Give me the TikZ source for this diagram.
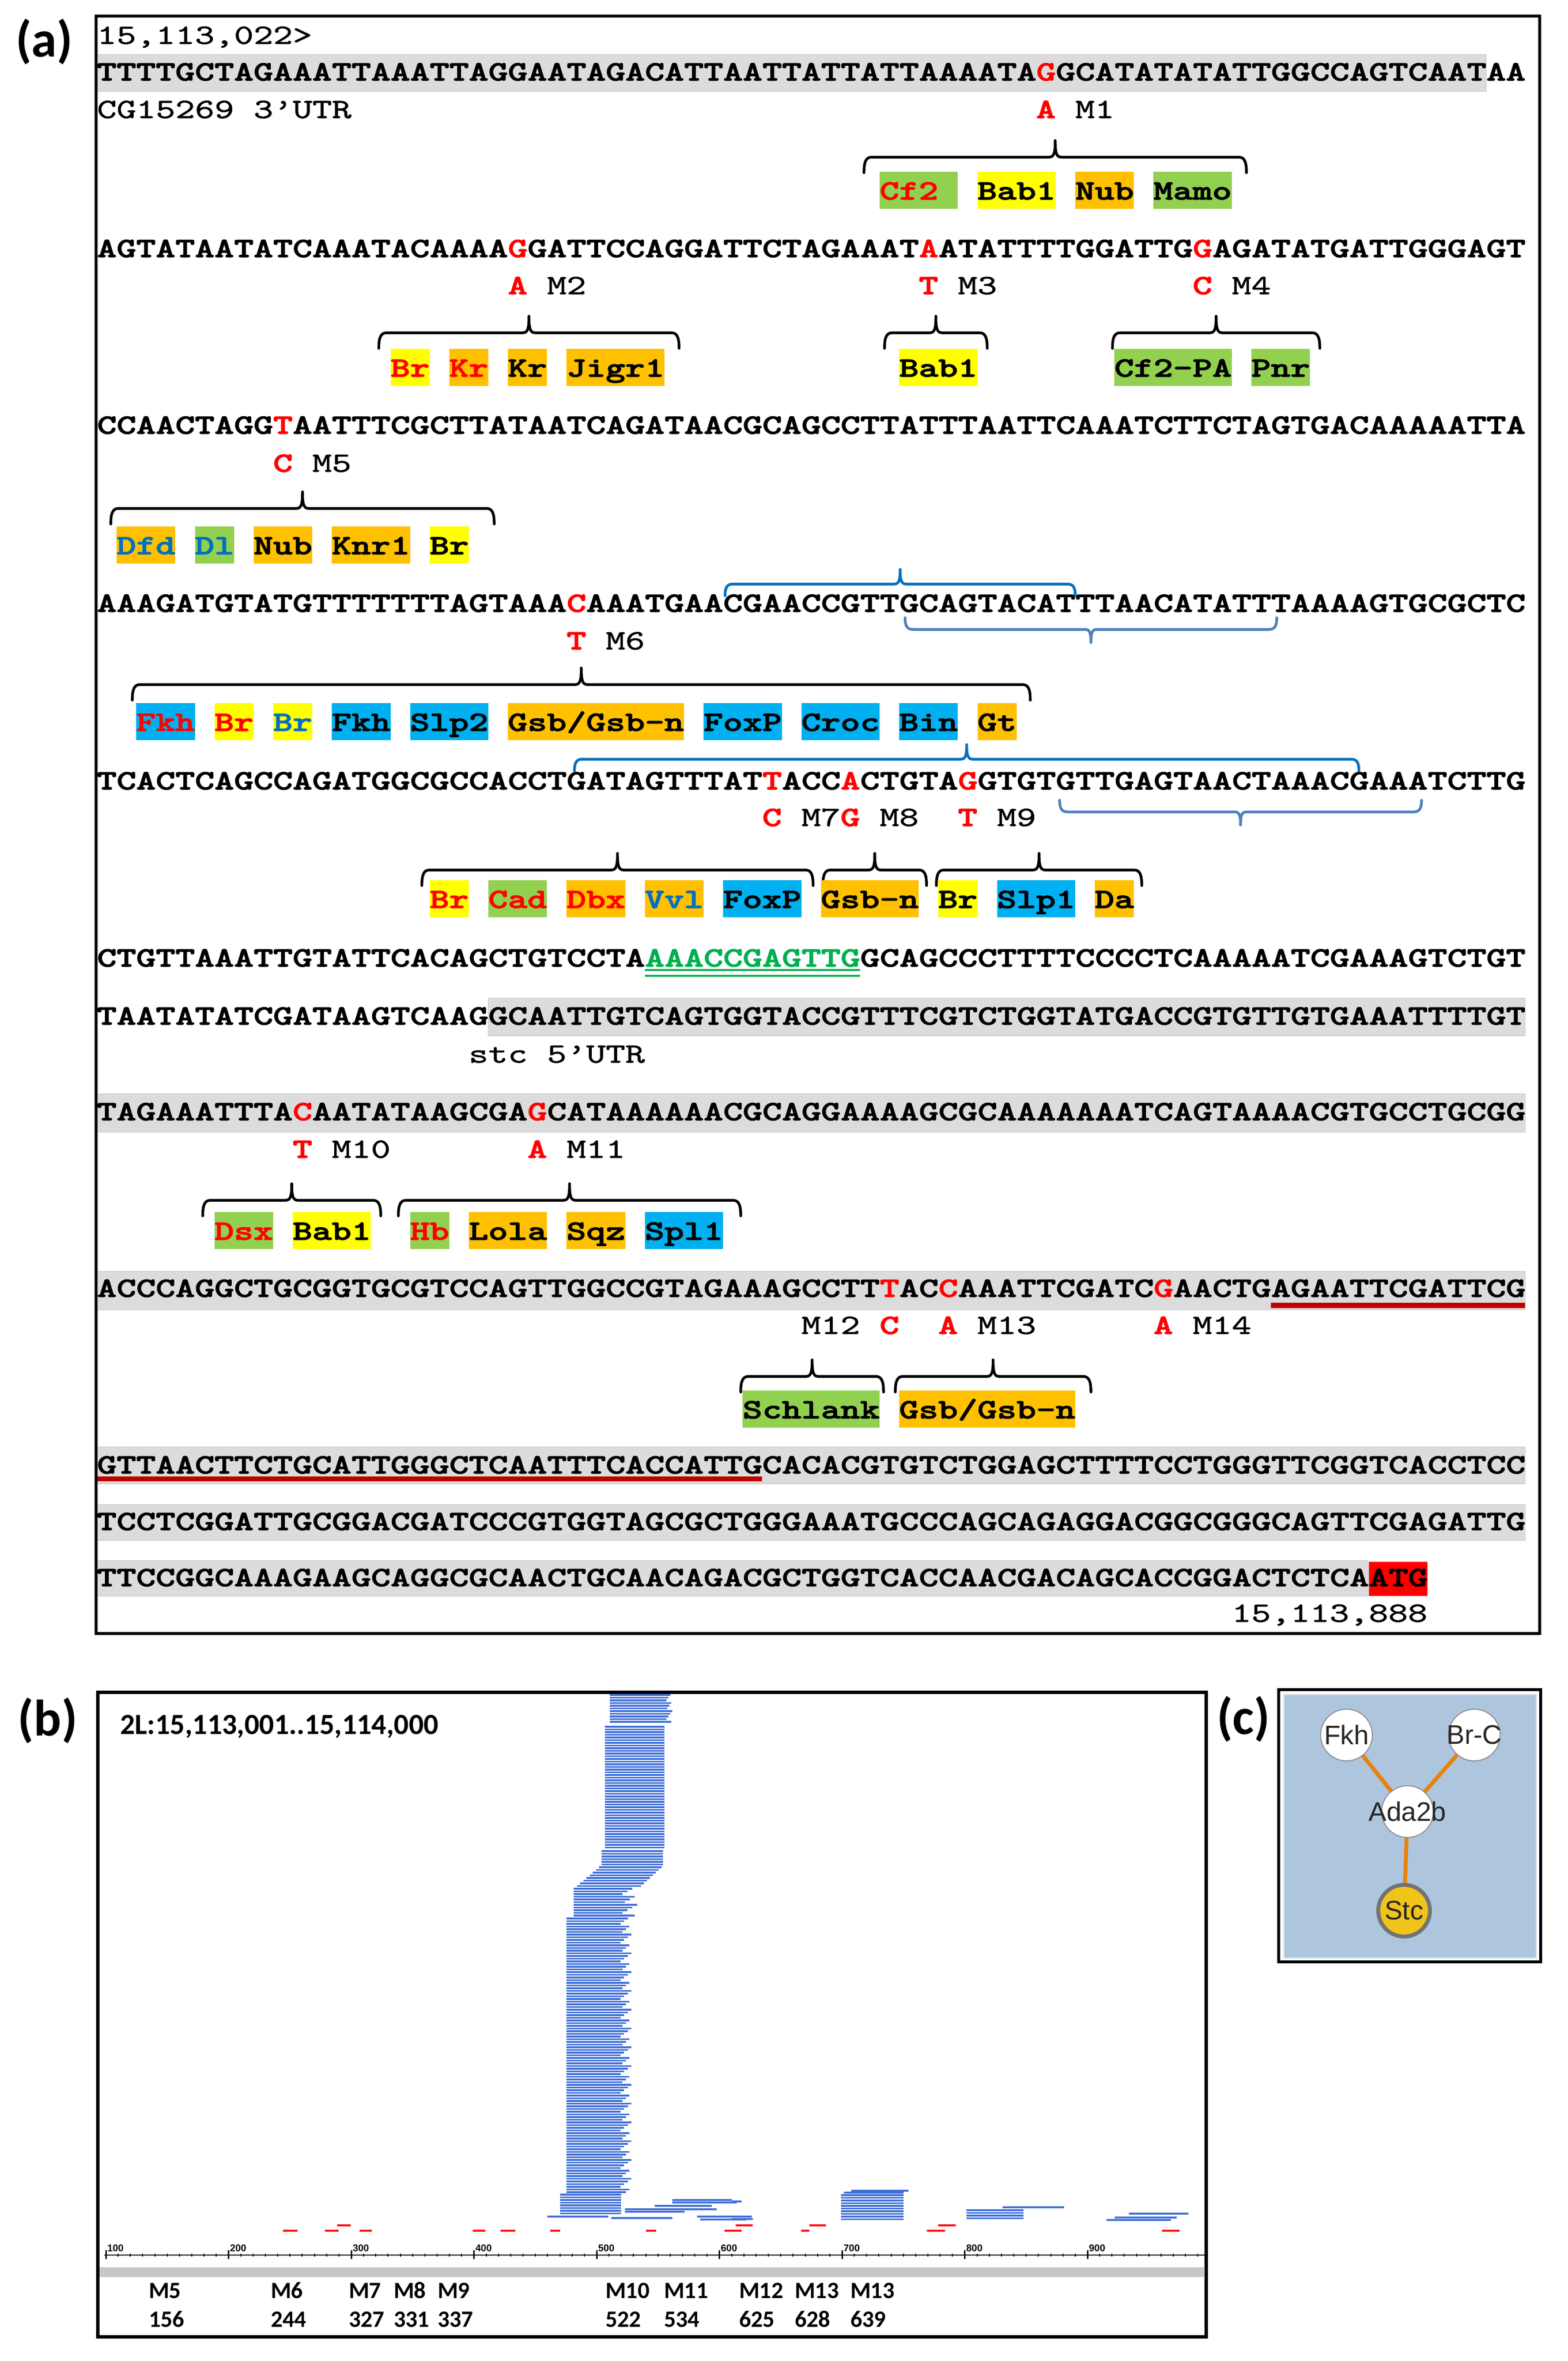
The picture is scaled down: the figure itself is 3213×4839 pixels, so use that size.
\documentclass[tikz,border=0pt]{standalone}
\usepackage{fontspec}
\newfontfamily\calfont{Carlito}
\newfontfamily\arfont{Liberation Sans}
\newfontfamily\seqbf{lmmonolt10-bold.otf}[FakeBold=2]
\newfontfamily\seqrg{lmmono10-regular.otf}[FakeBold=1]

\definecolor{hlyel}{HTML}{FFFF00}
\definecolor{hlorg}{HTML}{FFC000}
\definecolor{hlgrn}{HTML}{92D050}
\definecolor{hlcya}{HTML}{00B0F0}
\definecolor{txred}{HTML}{FF0000}
\definecolor{txblu}{HTML}{0070C0}
\definecolor{bandgr}{HTML}{DCDCDC}
\definecolor{seqgrn}{HTML}{00B050}
\definecolor{ulred}{HTML}{C00000}
\definecolor{brblu}{HTML}{0070C0}
\definecolor{brblt}{HTML}{4F81BD}
\definecolor{readdk}{HTML}{3F6FD8}
\definecolor{netbg}{HTML}{ADC6DE}
\definecolor{netedge}{HTML}{E8820C}
\definecolor{stcfill}{HTML}{F0C419}

\newlength\cw
\setlength\cw{8.022pt}
\newcommand\seqfont{\fontsize{15.28}{18}\selectfont\ttfamily}
\newcommand\seqtx[1]{\scalebox{1}[0.75]{#1}}
\newcommand\mutc[1]{\textcolor{txred}{\seqbf #1}}

\tikzstyle{seq} = [anchor=base west, inner sep=0pt, outer sep=0pt, font=\seqfont\seqbf]
\tikzstyle{note} = [anchor=base west, inner sep=0pt, outer sep=0pt, font=\seqfont\seqrg]
\tikzstyle{tf} = [anchor=base west, inner sep=0pt, outer sep=0pt, text height=11.4pt, text depth=3.8pt, font=\seqfont\seqbf]
\tikzstyle{brc} = [line width=1.1pt, line join=round, line cap=round]
\tikzstyle{band} = [fill=bandgr, draw=black!18, line width=0.3pt]
\tikzstyle{rdline} = [draw=readdk, line width=0.7pt]
\tikzstyle{rdred} = [draw=txred, line width=0.7pt]
\tikzstyle{plab} = [anchor=base west, inner sep=0pt, font={\calfont\bfseries\fontsize{21}{24}\selectfont}]
\tikzstyle{mlab} = [anchor=base west, inner sep=0pt, font={\calfont\bfseries\fontsize{9.6}{11}\selectfont}]
\tikzstyle{axlab} = [anchor=base west, inner sep=0pt, font={\arfont\bfseries\fontsize{4}{5}\selectfont}]
\tikzstyle{net} = [circle, draw=black!45, line width=0.4pt, fill=white, minimum size=21.2pt, inner sep=0pt, font={\arfont\fontsize{11}{13}\selectfont}, text=black!85]
\tikzstyle{netline} = [draw=netedge, line width=1.6pt]

% highlighted factor name: name, cell, cells, fill, text colour, baseline, label
\newcommand\tfbox[7]{\node[tf, fill=#4, text=#5] (#1) at (#2,#6) {\makebox[#3\cw][l]{\seqtx{#7}}};}
% brace: left, right, level, end offset, tip offset, style
\newcommand\tfbrace[6]{%
	\pgfmathsetmacro\bm{(#1+#2)/2}%
	\draw[brc,#6] (#1,{#3+(#4)}) .. controls (#1,{#3+0.3*(#4)}) and ({#1+0.1},#3) .. ({#1+0.4},#3)
		-- ({\bm-0.3},#3) .. controls ({\bm-0.05},#3) and (\bm,{#3+0.3*(#5)}) .. (\bm,{#3+(#5)})
		.. controls (\bm,{#3+0.3*(#5)}) and ({\bm+0.05},#3) .. ({\bm+0.3},#3)
		-- ({#2-0.4},#3) .. controls ({#2-0.1},#3) and (#2,{#3+0.3*(#4)}) .. (#2,{#3+(#4)});}
% stack of reads: left, right, top, count, jitter
\newcommand\readpile[5]{%
	\foreach \i in {1,...,#4}{%
		\pgfmathsetmacro\rx{#2-#5*mod(\i*37,7)/6}%
		\draw[rdline] (#1,{#3+5.5*(\i-1)}) -- (\rx,{#3+5.5*(\i-1)});}}

\begin{document}
\begin{tikzpicture}[x=0.2pt, y=-0.2pt]
	\useasboundingbox (0,0) rectangle (3213,4839);

	% (a) sequence
	\node[plab] (pa) at (31,116) {(a)};
	\begin{scope}[shift={(199,0)}, xscale=40.1]
		\fill[band] (0,112) rectangle (71,187);
		\fill[band] (20,2046) rectangle (73,2123);
		\fill[band] (0,2242) rectangle (73,2320);
		\fill[band] (0,2606) rectangle (73,2684);
		\fill[band] (0,2966) rectangle (73,3041);
		\fill[band] (0,3084) rectangle (73,3157);
		\fill[band] (0,3199) rectangle (65,3271);
		\fill[txred] (65,3201) rectangle (68,3271);
		\fill[ulred] (60,2670) rectangle (73,2681);
		\fill[ulred] (0,3026) rectangle (34,3036);
		\draw[seqgrn, line width=0.7pt] (28,1988) -- (39,1988);
		\draw[seqgrn, line width=0.7pt] (28,2000) -- (39,2000);

		\node[note] (start) at (0,90) {\seqtx{15,113,022>}};
		\node[seq] (s1) at (0,165) {\seqtx{TTTTGCTAGAAATTAAATTAGGAATAGACATTAATTATTATTAAAATA\mutc{G}GCATATATATTGGCCAGTCAATAA}};
		\node[note] (utr3) at (0,242) {\seqtx{CG15269 3\textquoteright UTR}};
		\node[seq] (s2) at (0,527) {\seqtx{AGTATAATATCAAATACAAAA\mutc{G}GATTCCAGGATTCTAGAAAT\mutc{A}ATATTTTGGATTG\mutc{G}AGATATGATTGGGAGT}};
		\node[seq] (s3) at (0,889) {\seqtx{CCAACTAGG\mutc{T}AATTTCGCTTATAATCAGATAACGCAGCCTTATTTAATTCAAATCTTCTAGTGACAAAAATTA}};
		\node[seq] (s4) at (0,1254) {\seqtx{AAAGATGTATGTTTTTTTAGTAAA\mutc{C}AAATGAACGAACCGTTGCAGTACATTTAACATATTTAAAAGTGCGCTC}};
		\node[seq] (s5) at (0,1618) {\seqtx{TCACTCAGCCAGATGGCGCCACCTGATAGTTTAT\mutc{T}ACC\mutc{A}CTGTA\mutc{G}GTGTGTTGAGTAACTAAACGAAATCTTG}};
		\node[seq] (s6) at (0,1981) {\seqtx{CTGTTAAATTGTATTCACAGCTGTCCTA\textcolor{seqgrn}{AAACCGAGTTG}GCAGCCCTTTTCCCCTCAAAAATCGAAAGTCTGT}};
		\node[seq] (s7) at (0,2100) {\seqtx{TAATATATCGATAAGTCAAGGCAATTGTCAGTGGTACCGTTTCGTCTGGTATGACCGTGTTGTGAAATTTTGT}};
		\node[note] (utr5) at (19,2178) {\seqtx{stc 5\textquoteright UTR}};
		\node[seq] (s8) at (0,2296) {\seqtx{TAGAAATTTA\mutc{C}AATATAAGCGA\mutc{G}CATAAAAAACGCAGGAAAAGCGCAAAAAAATCAGTAAAACGTGCCTGCGG}};
		\node[seq] (s9) at (0,2658) {\seqtx{ACCCAGGCTGCGGTGCGTCCAGTTGGCCGTAGAAAGCCTT\mutc{T}AC\mutc{C}AAATTCGATC\mutc{G}AACTGAGAATTCGATTCG}};
		\node[seq] (s10) at (0,3020) {\seqtx{GTTAACTTCTGCATTGGGCTCAATTTCACCATTGCACACGTGTCTGGAGCTTTTCCTGGGTTCGGTCACCTCC}};
		\node[seq] (s11) at (0,3136) {\seqtx{TCCTCGGATTGCGGACGATCCCGTGGTAGCGCTGGGAAATGCCCAGCAGAGGACGGCGGGCAGTTCGAGATTG}};
		\node[seq] (s12) at (0,3251) {\seqtx{TTCCGGCAAAGAAGCAGGCGCAACTGCAACAGACGCTGGTCACCAACGACAGCACCGGACTCTCAATG}};
		\node[note] (stop) at (58,3324) {\seqtx{15,113,888}};

		% mutations
		\node[note] (mu1) at (48,242) {\seqtx{\mutc{A} M1}};
		\node[note] (mu2) at (21,603) {\seqtx{\mutc{A} M2}};
		\node[note] (mu3) at (42,603) {\seqtx{\mutc{T} M3}};
		\node[note] (mu4) at (56,603) {\seqtx{\mutc{C} M4}};
		\node[note] (mu5) at (9,967) {\seqtx{\mutc{C} M5}};
		\node[note] (mu6) at (24,1331) {\seqtx{\mutc{T} M6}};
		\node[note] (mu7) at (34,1693) {\seqtx{\mutc{C} M7}};
		\node[note] (mu8) at (38,1693) {\seqtx{\mutc{G} M8}};
		\node[note] (mu9) at (44,1693) {\seqtx{\mutc{T} M9}};
		\node[note] (mu10) at (10,2373) {\seqtx{\mutc{T} M10}};
		\node[note] (mu11) at (22,2373) {\seqtx{\mutc{A} M11}};
		\node[note] (mu12) at (36,2734) {\seqtx{M12 \mutc{C}}};
		\node[note] (mu13) at (43,2734) {\seqtx{\mutc{A} M13}};
		\node[note] (mu14) at (54,2734) {\seqtx{\mutc{A} M14}};

		% braces
		\tfbrace{39.2}{58.75}{322}{32}{-34}{black}
		\tfbrace{14.4}{29.75}{682}{32}{-34}{black}
		\tfbrace{40.25}{45.5}{682}{32}{-34}{black}
		\tfbrace{51.9}{62.5}{682}{32}{-34}{black}
		\tfbrace{0.7}{20.3}{1042}{32}{-34}{black}
		\tfbrace{1.8}{47.7}{1403}{32}{-34}{black}
		\tfbrace{16.6}{36.6}{1783}{32}{-34}{black}
		\tfbrace{37.1}{42.4}{1783}{32}{-34}{black}
		\tfbrace{42.9}{53.4}{1783}{32}{-34}{black}
		\tfbrace{5.4}{14.5}{2460}{32}{-34}{black}
		\tfbrace{15.4}{32.9}{2460}{32}{-34}{black}
		\tfbrace{32.9}{40.2}{2821}{32}{-34}{black}
		\tfbrace{40.8}{50.8}{2821}{32}{-34}{black}
		\tfbrace{32.1}{50.0}{1197}{24}{-30}{brblu}
		\tfbrace{24.4}{64.5}{1556}{24}{-30}{brblu}
		\tfbrace{41.3}{60.3}{1290}{-24}{27}{brblt}
		\tfbrace{49.2}{67.7}{1664}{-24}{27}{brblt}

		% factors
		\tfbox{cfa}{40}{4}{hlgrn}{txred}{409}{Cf2}
		\tfbox{baba}{45}{4}{hlyel}{black}{409}{Bab1}
		\tfbox{nuba}{50}{3}{hlorg}{black}{409}{Nub}
		\tfbox{mamo}{54}{4}{hlgrn}{black}{409}{Mamo}

		\tfbox{bra}{15}{2}{hlyel}{txred}{772}{Br}
		\tfbox{kra}{18}{2}{hlorg}{txred}{772}{Kr}
		\tfbox{krb}{21}{2}{hlorg}{black}{772}{Kr}
		\tfbox{jigr}{24}{5}{hlorg}{black}{772}{Jigr1}
		\tfbox{babb}{41}{4}{hlyel}{black}{772}{Bab1}
		\tfbox{cfpa}{52}{6}{hlgrn}{black}{772}{Cf2-PA}
		\tfbox{pnr}{59}{3}{hlgrn}{black}{772}{Pnr}

		\tfbox{dfd}{1}{3}{hlorg}{txblu}{1136}{Dfd}
		\tfbox{dl}{5}{2}{hlgrn}{txblu}{1136}{Dl}
		\tfbox{nubb}{8}{3}{hlorg}{black}{1136}{Nub}
		\tfbox{knr}{12}{4}{hlorg}{black}{1136}{Knr1}
		\tfbox{brb}{17}{2}{hlyel}{black}{1136}{Br}

		\tfbox{fkha}{2}{3}{hlcya}{txred}{1498}{Fkh}
		\tfbox{brc}{6}{2}{hlyel}{txred}{1498}{Br}
		\tfbox{brd}{9}{2}{hlyel}{txblu}{1498}{Br}
		\tfbox{fkhb}{12}{3}{hlcya}{black}{1498}{Fkh}
		\tfbox{slpb}{16}{4}{hlcya}{black}{1498}{Slp2}
		\tfbox{gsba}{21}{9}{hlorg}{black}{1498}{Gsb/Gsb-n}
		\tfbox{foxa}{31}{4}{hlcya}{black}{1498}{FoxP}
		\tfbox{croc}{36}{4}{hlcya}{black}{1498}{Croc}
		\tfbox{bin}{41}{3}{hlcya}{black}{1498}{Bin}
		\tfbox{gt}{45}{2}{hlorg}{black}{1498}{Gt}

		\tfbox{bre}{17}{2}{hlyel}{txred}{1861}{Br}
		\tfbox{cad}{20}{3}{hlgrn}{txred}{1861}{Cad}
		\tfbox{dbx}{24}{3}{hlorg}{txred}{1861}{Dbx}
		\tfbox{vvl}{28}{3}{hlorg}{txblu}{1861}{Vvl}
		\tfbox{foxb}{32}{4}{hlcya}{black}{1861}{FoxP}
		\tfbox{gsnb}{37}{5}{hlorg}{black}{1861}{Gsb-n}
		\tfbox{brf}{43}{2}{hlyel}{black}{1861}{Br}
		\tfbox{slpa}{46}{4}{hlcya}{black}{1861}{Slp1}
		\tfbox{da}{51}{2}{hlorg}{black}{1861}{Da}

		\tfbox{dsx}{6}{3}{hlgrn}{txred}{2541}{Dsx}
		\tfbox{babc}{10}{4}{hlyel}{black}{2541}{Bab1}
		\tfbox{hb}{16}{2}{hlgrn}{txred}{2541}{Hb}
		\tfbox{lola}{19}{4}{hlorg}{black}{2541}{Lola}
		\tfbox{sqz}{24}{3}{hlorg}{black}{2541}{Sqz}
		\tfbox{spl}{28}{4}{hlcya}{black}{2541}{Spl1}

		\tfbox{schl}{33}{7}{hlgrn}{black}{2907}{Schlank}
		\tfbox{gsbc}{41}{9}{hlorg}{black}{2907}{Gsb/Gsb-n}
	\end{scope}
	\draw[line width=1.2pt] (197,33) rectangle (3156,3348);

	% (b) reads
	\node[plab] (pb) at (36,3557) {(b)};
	\node[anchor=base west, inner sep=0pt, font={\calfont\bfseries\fontsize{12}{14}\selectfont}] (loc) at (245,3554) {2L:15,113,001..15,114,000};
	\readpile{1250}{1378}{3474}{11}{12}
	\readpile{1240}{1362}{3539}{46}{0}
	\readpile{1233}{1359}{3794}{6}{0}
	\foreach \i in {0,...,7}
		\draw[rdline] ({1228-6.5*\i},{3827+5.5*\i}) -- ({1356-6*\i},{3827+5.5*\i});
	\readpile{1176}{1306}{3871}{11}{30}
	\readpile{1161}{1294}{3932}{103}{22}
	\readpile{1148}{1273}{4498}{8}{0}
	\readpile{1724}{1852}{4499}{10}{0}
	\readpile{1981}{2098}{4530}{4}{0}
	\foreach \a/\b/\yy in {1122/1247/4543, 1253/1378/4546, 1281/1403/4533, 1281/1469/4528, 1342/1459/4521, 1378/1500/4509, 1378/1510/4514, 1429/1541/4543, 1435/1530/4549, 1500/1543/4548, 1500/1520/4512, 1745/1862/4490, 1730/1852/4494, 2055/2181/4524, 2268/2400/4550, 2285/2412/4545, 2314/2436/4537}
		\draw[rdline] (\a,\yy) -- (\b,\yy);
	\foreach \a/\b/\yy in {580/610/4572, 666/694/4572, 737/762/4572, 969/995/4572, 1026/1056/4572, 1128/1148/4572, 1324/1345/4572, 1485/1520/4572, 1642/1659/4572, 1900/1937/4572, 2382/2418/4572, 691/719/4561, 1508/1543/4561, 1659/1693/4561, 1923/1959/4561}
		\draw[rdred] (\a,\yy) -- (\b,\yy);

	% axis
	\draw[line width=0.5pt] (214,4622) -- (2472,4622);
	\foreach \v in {100,110,...,990}
		\draw[line width=0.4pt] ({217+(\v-100)*2.515},4619) -- ({217+(\v-100)*2.515},4625);
	\foreach \v in {100,200,...,900} {
		\draw[line width=0.6pt] ({217+(\v-100)*2.515},4612) -- ({217+(\v-100)*2.515},4630);
		\node[axlab] (ax\v) at ({219+(\v-100)*2.515},4614) {\v};
	}
	\fill[black!22] (202,4647) rectangle (2468,4667);
	\foreach \lab/\num/\xx [count=\k] in {M5/156/304, M6/244/554, M7/327/714, M8/331/806, M9/337/896, M10/522/1240, M11/534/1360, M12/625/1514, M13/628/1628, M13/639/1742} {
		\node[mlab] (ml\k) at (\xx,4710) {\lab};
		\node[mlab] (mn\k) at (\xx,4769) {\num};
	}
	\draw[line width=1.4pt] (200,3468) rectangle (2472,4789);

	% (c) network
	\node[plab] (pc) at (2493,3554) {(c)};
	\fill[netbg] (2631,3472) rectangle (3149,4013);
	\draw[white!60!netbg, line width=0.6pt] (2631,3472) rectangle (3149,4013);
	\draw[line width=1.1pt] (2621,3463) rectangle (3158,4021);
	\node[net] (fkh) at (2760,3556) {\makebox[0pt]{Fkh}};
	\node[net] (brcx) at (3022,3556) {\makebox[0pt]{Br-C}};
	\node[net] (ada) at (2885,3713) {\makebox[0pt]{Ada2b}};
	\node[net, fill=stcfill, draw=black!55, line width=1.6pt] (stc) at (2878,3916) {\makebox[0pt]{Stc}};
	\draw[netline] (fkh) -- (ada);
	\draw[netline] (brcx) -- (ada);
	\draw[netline] (ada) -- (stc);
\end{tikzpicture}
\end{document}
